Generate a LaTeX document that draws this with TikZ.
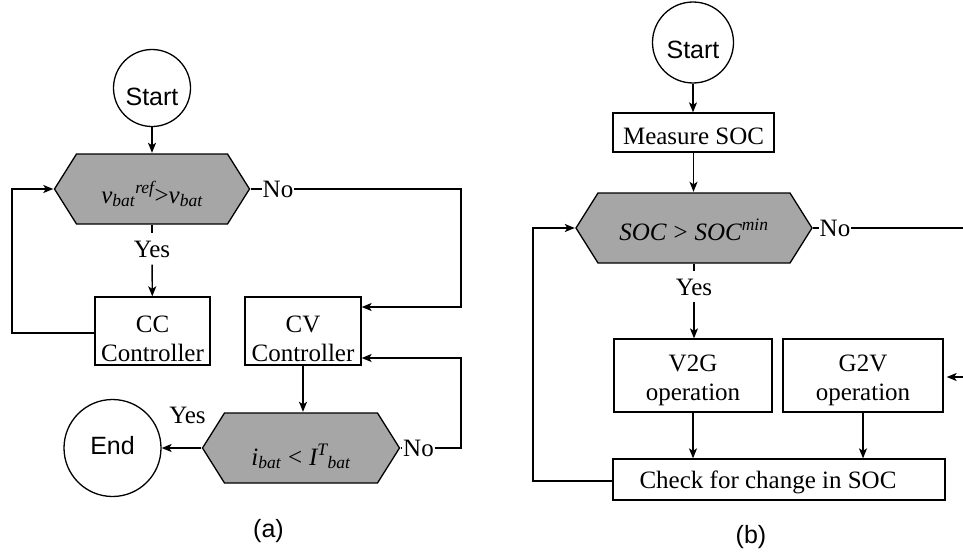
\documentclass[tikz,border=0pt]{standalone}
\usepackage{amsmath}
\usepackage{fontspec}
\setmainfont{Liberation Serif}
\newfontfamily\arialfont{Liberation Sans}
\usetikzlibrary{arrows.meta}
\definecolor{hexgray}{RGB}{166,166,166}

\tikzset{
  every node/.style={font=\fontsize{25}{29}\selectfont, inner sep=0pt},
  term/.style={circle, draw, line width=1.3pt,
    font=\arialfont\fontsize{25}{29}\selectfont, text depth=0pt},
  proc/.style={rectangle, draw, line width=1.3pt, align=center, text depth=0pt},
  decision/.style={rectangle, minimum width=#1, minimum height=72pt, text depth=0pt,
    path picture={
      \path[fill=hexgray, draw=black, line width=1.3pt]
        ([xshift=1pt]path picture bounding box.west)
        -- ([xshift=23pt,yshift=-1pt]path picture bounding box.north west)
        -- ([xshift=-23pt,yshift=-1pt]path picture bounding box.north east)
        -- ([xshift=-1pt]path picture bounding box.east)
        -- ([xshift=-23pt,yshift=1pt]path picture bounding box.south east)
        -- ([xshift=23pt,yshift=1pt]path picture bounding box.south west)
        -- cycle;
    }},
  lbl/.style={inner xsep=1pt, inner ysep=7pt, text height=17pt, text depth=0pt},
  caption/.style={font=\arialfont\fontsize{25}{29}\selectfont},
  wire/.style={line width=1.4pt},
  flow/.style={line width=1.4pt, -{Stealth[length=10pt,width=8pt,inset=2.5pt]}}
}

\begin{document}
\begin{tikzpicture}[x=1pt, y=-1pt]
\useasboundingbox (0,0) rectangle (963,554);

% ---------- (a) charging control ----------
\node[term, minimum size=77pt, text height=34pt] (starta) at (152,88) {Start};
\node[decision=197pt, text height=28pt] (h1) at (152,189)
  {$\textit{v}_{\textit{bat}}{}^{\textit{ref}}\textup{>}\textit{v}_{\textit{bat}}$};
\node[lbl] (yes1) at (152,249) {Yes};
\node[lbl] (no1) at (278,189) {No};
\node[proc, minimum width=115pt, minimum height=68pt, text height=60pt] (cc) at (152.5,331) {CC\\Controller};
\node[proc, minimum width=116pt, minimum height=68pt, text height=60pt] (cv) at (303,331) {CV\\Controller};
\node[decision=199pt, text height=34pt] (h2) at (301,448)
  {$\textit{i}_{\textit{bat}}\mathrel{\textup{<}}\textit{I}^{\textit{T}}{}_{\textit{bat}}$};
\node[term, minimum size=97pt, text height=13pt] (end) at (112.5,448) {End};
\node[lbl] (yes2) at (187.5,414.5) {Yes};
\node[lbl] (no2) at (418.5,448) {No};
\node[caption] (capa) at (268.5,531) {(a)};

\draw[flow] (starta) -- (h1);
\draw[wire] (h1) -- (yes1);
\draw[flow] (yes1) -- (cc);
\draw[wire] (h1) -- (no1);
\coordinate (ra) at (461,307);
\draw[flow] (no1) -| (ra) -- (cv.east |- ra);
\coordinate (la) at (12,333);
\draw[flow] (cc.west |- la) -- (la) |- (h1);
\draw[flow] (cv.south) -- (cv.south |- h2.north);
\draw[flow] (h2) -- (end);
\draw[wire] (h2) -- (no2);
\coordinate (rb) at (461,358);
\draw[flow] (no2) -| (rb) -- (cv.east |- rb);

% ---------- (b) V2G / G2V operation ----------
\node[term, minimum size=81pt, text height=31pt] (startb) at (693,42.5) {Start};
\node[proc, minimum width=161pt, minimum height=39pt, text height=23pt] (meas) at (693.5,132.5) {Measure SOC};
\node[decision=238pt, text height=24pt] (h3) at (694,228)
  {$\textit{SOC}\mathrel{\textup{>}}\textit{SOC}^{\textit{min}}$};
\node[lbl] (no3) at (835,228) {No};
\node[lbl] (yes3) at (694,286.5) {Yes};
\node[proc, minimum width=158pt, minimum height=73pt, text height=49pt] (v2g) at (693,375.5) {V2G\\operation};
\node[proc, minimum width=160pt, minimum height=73pt, text height=49pt] (g2v) at (863,375.5) {G2V\\operation};
\node[proc, minimum width=332pt, minimum height=41pt, text height=17pt] (chk) at (779,479.5)
  {Check for change in SOC\hspace*{22pt}};
\node[caption] (capb) at (751,537.5) {(b)};

\draw[flow] (startb) -- (startb |- meas.north);
\draw[flow] (meas.south) -- (meas.south |- h3.north);
\draw[wire] (h3) -- (no3);
\coordinate (redge) at (963,228);
\draw[wire] (no3) -- (redge);
\draw[wire] (h3) -- (yes3);
\draw[flow] (yes3.south) -- (yes3.south |- v2g.north);
\draw[flow] (v2g.south) -- (v2g.south |- chk.north);
\draw[flow] (g2v.south) -- (g2v.south |- chk.north);
\coordinate (lb) at (533,481);
\draw[flow] (chk.west |- lb) -- (lb) |- (h3);
\coordinate (rc) at (963,377);
\draw[flow, shorten >=3pt] (rc) -- (g2v.east |- rc);
\end{tikzpicture}
\end{document}
